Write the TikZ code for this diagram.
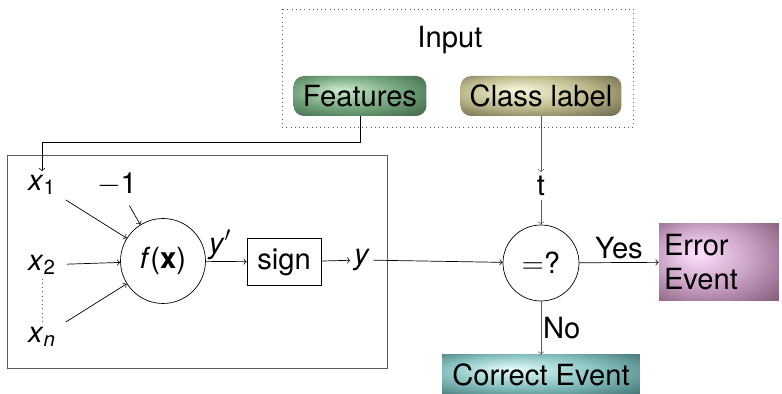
\documentclass[tikz,border=0pt]{standalone}
\usepackage{fontspec}
\setmainfont{TeX Gyre Heros}
\usetikzlibrary{positioning, arrows, shapes}
\definecolor{featout}{RGB}{50,85,58}
\definecolor{featmid}{RGB}{115,165,125}
\definecolor{featin}{RGB}{205,235,205}
\definecolor{clsout}{RGB}{85,80,55}
\definecolor{clsmid}{RGB}{190,185,140}
\definecolor{clsin}{RGB}{248,248,220}
\definecolor{errout}{RGB}{105,65,95}
\definecolor{errmid}{RGB}{200,160,195}
\definecolor{errin}{RGB}{255,228,255}
\definecolor{corout}{RGB}{50,98,98}
\definecolor{cormid}{RGB}{135,192,192}
\definecolor{corin}{RGB}{228,252,252}
\definecolor{linegray}{RGB}{90,90,90}
\pgfdeclareradialshading{featball}{\pgfpoint{-8bp}{8bp}}{color(0bp)=(featin); color(20bp)=(featmid); color(42bp)=(featout); color(50bp)=(featout)}
\pgfdeclareradialshading{clsball}{\pgfpoint{-8bp}{8bp}}{color(0bp)=(clsin); color(20bp)=(clsmid); color(42bp)=(clsout); color(50bp)=(clsout)}
\pgfdeclareradialshading{errball}{\pgfpoint{-10bp}{6bp}}{color(0bp)=(errin); color(20bp)=(errmid); color(45bp)=(errout); color(50bp)=(errout)}
\pgfdeclareradialshading{corball}{\pgfpoint{-8bp}{8bp}}{color(0bp)=(corin); color(20bp)=(cormid); color(42bp)=(corout); color(50bp)=(corout)}

\begin{document}
\begin{tikzpicture}[x=0.02cm, y=-0.02cm, >=to,
  every node/.style={font=\fontsize{16.6}{19}\selectfont},
  ball/.style={rounded corners=6pt, inner sep=0pt, minimum height=0.8cm},
  evt/.style={inner sep=0pt},
  unit/.style={draw, circle, inner sep=0pt},
  var/.style={inner sep=2pt},
  feed/.style={->, shorten <=4pt}]
 \useasboundingbox (0,0) rectangle (782,394);
 \draw[dotted, linegray] (282,9) rectangle (633,127);
 \draw[linegray] (7,155) rectangle (387,368);
 \node (input) at (450,40) {Input};
 \node[ball, minimum width=2.66cm, shading=featball] (feat) at (360,96) {Features};
 \node[ball, minimum width=3.22cm, shading=clsball] (cls) at (541,96) {Class label};
 \node[var] (x1) at (42,185) {\textit{x}\textsubscript{1}};
 \node[var] (x2) at (42,265) {\textit{x}\textsubscript{2}};
 \node[var] (xn) at (42,337) {\textit{x}\textsubscript{\textit{n}}};
 \node[var] (m1) at (117,184) {$-$1};
 \node[unit, minimum size=1.7cm] (f) at (163,261) {\textit{f}(\textbf{x})};
 \node[draw, minimum width=1.48cm, minimum height=0.94cm, inner sep=0pt] (sign) at (284,262) {sign};
 \node[var] (yout) at (362,260) {\textit{y}};
 \node[var] (t) at (541,186) {t};
 \node[unit, minimum size=1.52cm] (eq) at (541,263) {$=$?};
 \node[evt, minimum width=2.4cm, minimum height=1.54cm, text width=2.2cm, align=left, shading=errball] (err) at (719,262) {Error\\Event};
 \node[evt, minimum width=3.96cm, minimum height=0.8cm, shading=corball] (corr) at (541,375) {Correct Event};
 \coordinate (bend) at (42,142);
 \draw[->] (feat.south) |- (bend) -- (x1.north);
 \draw[->, draw=linegray] (cls.south) -- (t.north);
 \draw[->, draw=linegray] (t.south) -- (eq.north);
 \draw[feed] (x1) -- (f);
 \draw[feed] (m1) -- (f.122);
 \draw[feed] (x2) -- (f);
 \draw[feed] (xn) -- (f);
 \draw[dotted, linegray] (x2.south) -- (xn.north);
 \draw[->] (f) -- node[above, pos=0.35, inner sep=1pt] {\textit{y}$'$} (sign);
 \draw[->] (sign) -- (yout);
 \draw[->] (yout) -- (eq);
 \draw[->] (eq) -- node[above, inner sep=2pt] {Yes} (err);
 \draw[->, draw=linegray] (eq) -- node[right, inner sep=1pt] {No} (corr);
\end{tikzpicture}
\end{document}
